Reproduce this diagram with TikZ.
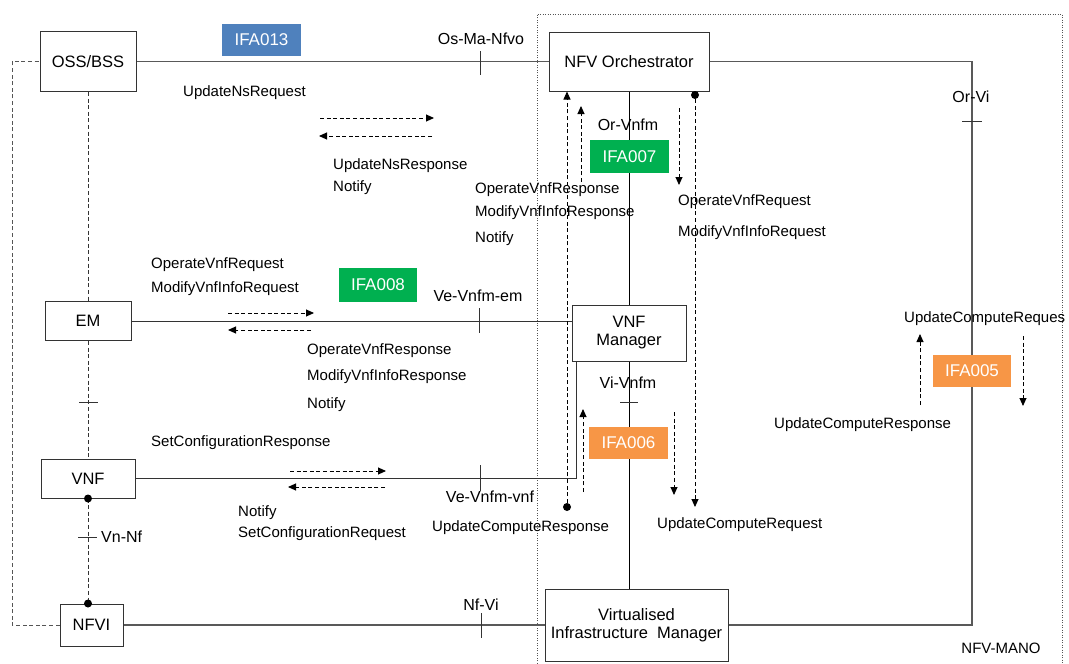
\documentclass[tikz,border=0pt]{standalone}
\usepackage{fontspec}
\setmainfont{Liberation Sans}
\usetikzlibrary{arrows.meta}
\definecolor{ifablue}{HTML}{4F81BD}
\definecolor{ifagreen}{HTML}{00B050}
\definecolor{ifaorange}{HTML}{F79646}
\definecolor{linec}{HTML}{333333}
\definecolor{greyc}{HTML}{595959}
\definecolor{framec}{HTML}{555555}
\tikzset{
  box/.style={draw=linec, line width=1pt, fill=white, align=center, inner sep=0pt,
    font=\fontsize{16.5}{19}\selectfont},
  lbl/.style={anchor=west, inner sep=0pt, font=\fontsize{15}{17}\selectfont, text=black},
  clbl/.style={inner sep=0pt, font=\fontsize{16}{18}\selectfont, text=black},
  ifa/.style={inner sep=0pt, text=white, font=\fontsize{17}{19}\selectfont},
  conn/.style={draw=linec, line width=1pt},
  gconn/.style={draw=greyc, line width=1.3pt},
  thinconn/.style={draw=black, line width=0.8pt},
  tickmark/.style={draw=linec, line width=1pt},
  darr/.style={draw=black, line width=0.9pt, dash pattern=on 4pt off 2.6pt,
    -{Triangle[length=8pt,width=7pt]}},
  dline/.style={draw=black, line width=0.9pt, dash pattern=on 4pt off 2.6pt},
  dotc/.style={circle, fill=black, inner sep=0pt, minimum size=8pt},
}
\begin{document}
\begin{tikzpicture}[x=1pt,y=-1pt]
\useasboundingbox[fill=white] (0,0) rectangle (1069,664);

% NFV-MANO frame
\draw[framec, line width=0.9pt, dash pattern=on 1pt off 1.5pt]
  (537,666) -- (537,14) -- (1062,14) -- (1062,666);
\node[clbl, font=\fontsize{15}{17}\selectfont] (mano) at (1001,648) {NFV-MANO};

% boxes
\node[box, minimum width=96pt, minimum height=60pt] (oss) at (88,61.5) {OSS/BSS};
\node[box, minimum width=160pt, minimum height=59pt] (nfvo) at (629,61.5) {NFV Orchestrator};
\node[box, minimum width=86pt, minimum height=39pt] (em) at (88,321) {EM};
\node[box, minimum width=94pt, minimum height=39pt] (vnf) at (88,478.5) {VNF};
\node[box, minimum width=63pt, minimum height=42pt] (nfvi) at (91.5,625) {NFVI};
\node[box, minimum width=114pt, minimum height=56pt] (vnfm) at (629,333) {VNF\\[-1pt]Manager};
\node[box, minimum width=183pt, minimum height=72pt] (vim) at (636.5,625) {Virtualised\\[-1pt]Infrastructure\ \ Manager};

% reference points
\coordinate (orvi1) at (972,61.5);
\coordinate (orvi2) at (972,625);
\coordinate (vnfmleg) at ([xshift=5pt]vnfm.south west);
\coordinate (vnfleg) at (vnfmleg |- vnf.east);

% solid connectors
\draw[gconn] (oss.east) -- (nfvo.west);
\draw[gconn] (nfvo.east) -- (orvi1) -- (orvi2) -- (vim.east);
\draw[thinconn] (nfvo.south) -- (vnfm.north);
\draw[thinconn] (vnfm.south) -- (vnfm.south |- vim.north);
\draw[conn] (em.east) -- (em.east -| vnfm.west);
\draw[conn] (vnf.east) -- (vnfleg) -- (vnfmleg);
\draw[gconn] (nfvi.east) -- (nfvi.east -| vim.west);

% dashed connectors (left)
\draw[dline, draw=linec] (oss.south) -- (em.north);
\draw[dline, draw=linec] (em.south) -- (vnf.north);
\draw[dline, draw=linec] (vnf.south) -- (vnf.south |- nfvi.north);
\draw[dline, draw=framec, line width=1pt] (nfvi.west) -- (12,625) -- (12,61.5) -- (oss.west);

% ticks
\draw[tickmark] (480,51) -- (480,75);
\draw[tickmark] (962,121) -- (982,121);
\draw[tickmark] (479,308) -- (479,333);
\draw[tickmark] (620,402) -- (638,402);
\draw[tickmark] (480,465) -- (480,491);
\draw[tickmark] (78,537) -- (97,537);
\draw[tickmark] (481,613) -- (481,638);
\draw[tickmark] (79,402) -- (98,402);

% reference point labels
\node[clbl] (osma) at (481,39) {Os-Ma-Nfvo};
\node[clbl] (orvil) at (971,97) {Or-Vi};
\node[clbl] (orvnfm) at (628,125) {Or-Vnfm};
\node[clbl] (veem) at (478,296) {Ve-Vnfm-em};
\node[clbl] (vivnfm) at (628,383) {Vi-Vnfm};
\node[clbl] (vevnf) at (490,497) {Ve-Vnfm-vnf};
\node[clbl, anchor=west] (vnnf) at (101,537) {Vn-Nf};
\node[clbl] (nfvil) at (481,605) {Nf-Vi};

% dots
\node[dotc] (d1) at (vnf.south) {};
\node[dotc] (d2) at (vnf.south |- nfvi.north) {};
\node[dotc] (d3) at (695,95) {};
\node[dotc] (d4) at (567,507) {};

% dashed arrows
\coordinate (a1s) at (320,118); \coordinate (a1e) at (434,118);
\coordinate (a2s) at (432,136); \coordinate (a2e) at (319,136);
\draw[darr] (a1s) -- (a1e);
\draw[darr] (a2s) -- (a2e);
\coordinate (a3s) at (228,313); \coordinate (a3e) at (314,313);
\coordinate (a4s) at (311,330); \coordinate (a4e) at (228,330);
\draw[darr] (a3s) -- (a3e);
\draw[darr] (a4s) -- (a4e);
\coordinate (a5s) at (290,471); \coordinate (a5e) at (386,471);
\coordinate (a6s) at (385,487); \coordinate (a6e) at (288,487);
\draw[darr] (a5s) -- (a5e);
\draw[darr] (a6s) -- (a6e);
\draw[darr] (d4) -- (d4 |- nfvo.south);
\coordinate (a7s) at (581,182); \coordinate (a7e) at (581,106);
\draw[darr] (a7s) -- (a7e);
\coordinate (a8s) at (679,108); \coordinate (a8e) at (679,185);
\draw[darr] (a8s) -- (a8e);
\coordinate (a9e) at (695,507);
\draw[darr] (d3) -- (a9e);
\coordinate (a10s) at (583,492); \coordinate (a10e) at (583,409);
\draw[darr] (a10s) -- (a10e);
\coordinate (a11s) at (674,412); \coordinate (a11e) at (674,495);
\draw[darr] (a11s) -- (a11e);
\coordinate (a12s) at (920,405); \coordinate (a12e) at (920,334);
\draw[darr] (a12s) -- (a12e);
\coordinate (a13s) at (1023,336); \coordinate (a13e) at (1023,406);
\draw[darr] (a13s) -- (a13e);

% IFA boxes
\node[ifa, fill=ifablue, minimum width=79pt, minimum height=32pt] (ifa13) at (261.5,40) {IFA013};
\node[ifa, fill=ifagreen, minimum width=79pt, minimum height=33pt] (ifa7) at (629.5,156.5) {IFA007};
\node[ifa, fill=ifagreen, minimum width=78pt, minimum height=34pt] (ifa8) at (378,285) {IFA008};
\node[ifa, fill=ifaorange, minimum width=79pt, minimum height=32pt] (ifa6) at (628.5,443) {IFA006};
\node[ifa, fill=ifaorange, minimum width=78pt, minimum height=32pt] (ifa5) at (972,371) {IFA005};

% message labels
\node[lbl] (t1) at (183,93) {UpdateNsRequest};
\node[lbl] (t2) at (333,166) {UpdateNsResponse};
\node[lbl] (t3) at (333,188) {Notify};
\node[lbl] (t4) at (475,190) {OperateVnfResponse};
\node[lbl] (t5) at (475,213) {ModifyVnfInfoResponse};
\node[lbl] (t6) at (475,239) {Notify};
\node[lbl] (t7) at (678,202) {OperateVnfRequest};
\node[lbl] (t8) at (678,233) {ModifyVnfInfoRequest};
\node[lbl] (t9) at (151,265) {OperateVnfRequest};
\node[lbl] (t10) at (151,289) {ModifyVnfInfoRequest};
\node[lbl] (t11) at (307,351) {OperateVnfResponse};
\node[lbl] (t12) at (307,377) {ModifyVnfInfoResponse};
\node[lbl] (t13) at (307,405) {Notify};
\node[lbl] (t14) at (151,443) {SetConfigurationResponse};
\node[lbl] (t15) at (238,513) {Notify};
\node[lbl] (t16) at (238,534) {SetConfigurationRequest};
\node[lbl] (t17) at (432,528) {UpdateComputeResponse};
\node[lbl] (t18) at (657,525) {UpdateComputeRequest};
\node[lbl] (t19) at (904,319) {UpdateComputeReques};
\node[lbl] (t20) at (774,425) {UpdateComputeResponse};
\end{tikzpicture}
\end{document}
